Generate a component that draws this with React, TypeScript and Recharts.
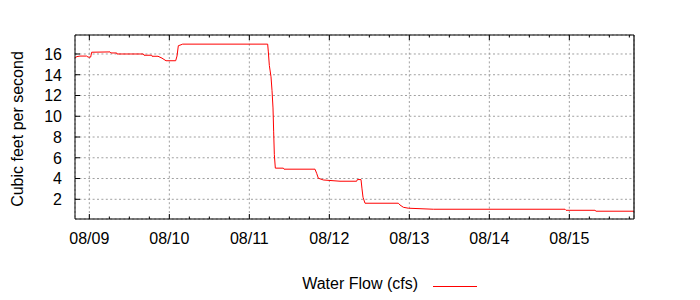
import { LineChart, Line, XAxis, YAxis, CartesianGrid, Legend } from "recharts"

// hours after 08/09 00:00
const hours = [
  -4.3, -3.7, -2.8, -0.8, -0.4, 0.4, 0.7, 6.2, 6.5, 8.2, 8.3, 16.2, 16.4, 18.7,
  18.8, 20.6, 21.8, 23, 25.9, 26.3, 26.7, 27.2, 28, 53.5, 53.7, 54, 54.5, 54.8,
  55.1, 55.3, 55.5, 55.8, 58.2, 58.4, 67.7, 68.2, 68.7, 70.2, 75.2, 80.2, 80.4,
  81.5, 81.8, 82.1, 82.7, 92.7, 93.2, 94.2, 95.7, 103.2, 142.7, 143, 151.7, 152,
  163.4,
]
const flow = [
  15.65, 15.75, 15.8, 15.8, 15.7, 15.7, 16.17, 16.2, 16.1, 16.1, 16.0, 16.0,
  15.88, 15.88, 15.78, 15.78, 15.6, 15.35, 15.35, 15.8, 16.8, 16.85, 16.95,
  16.95, 16.2, 14.9, 13.8, 12.5, 10.8, 8.5, 6.3, 5.0, 5.0, 4.9, 4.9, 4.5, 4.03,
  3.86, 3.74, 3.74, 3.9, 3.9, 3.0, 2.2, 1.62, 1.62, 1.45, 1.23, 1.14, 1.04, 1.04,
  0.94, 0.94, 0.85, 0.85,
]

const dayTicks = [0, 24, 48, 72, 96, 120, 144]
const dayLabels = ["08/09", "08/10", "08/11", "08/12", "08/13", "08/14", "08/15"]
const quarterTicks = [
  0, 6, 12, 18, 24, 30, 36, 42, 48, 54, 60, 66, 72, 78, 84, 90, 96, 102, 108,
  114, 120, 126, 132, 138, 144, 150, 156, 162,
]
const flowTicks = [2, 4, 6, 8, 10, 12, 14, 16]
const xRange = [-4.3, 163.4]
const yRange = [0.1, 17.83]

const data = hours.map((h, i) => ({ h, flow: flow[i] }))

const FONT = "'Liberation Sans', Arial, sans-serif"

function BottomTick({ x, y, payload }: any) {
  const idx = dayTicks.indexOf(payload.value)
  const major = idx >= 0
  return (
    <g>
      <line x1={x} y1={y} x2={x} y2={y - (major ? 5 : 2.5)} stroke="#000" />
      {major && (
        <text x={x} y={y + 25} textAnchor="middle" fontSize={16} fontFamily={FONT} fill="#000">
          {dayLabels[idx]}
        </text>
      )}
    </g>
  )
}

function TopTick({ x, y, payload }: any) {
  const major = dayTicks.includes(payload.value)
  return <line x1={x} y1={y} x2={x} y2={y + (major ? 5 : 2.5)} stroke="#000" />
}

function LeftTick({ x, y, payload }: any) {
  return (
    <g>
      <line x1={x} y1={y} x2={x + 5} y2={y} stroke="#000" />
      <text x={x - 13} y={y} dy="0.36em" textAnchor="end" fontSize={16} fontFamily={FONT} fill="#000">
        {payload.value}
      </text>
    </g>
  )
}

function RightTick({ x, y }: any) {
  return <line x1={x} y1={y} x2={x - 5} y2={y} stroke="#000" />
}

function YLabel({ viewBox }: any) {
  const cx = viewBox.x - 18
  const cy = viewBox.y + viewBox.height / 2 + 2
  return (
    <text
      x={cx}
      y={cy}
      transform={`rotate(-90 ${cx} ${cy})`}
      textAnchor="middle"
      dominantBaseline="central"
      fontSize={16}
      fontFamily={FONT}
      fill="#000"
    >
      Cubic feet per second
    </text>
  )
}

function LegendContent() {
  return (
    <div style={{ position: "relative", height: 20, fontFamily: FONT, fontSize: 16 }}>
      <span style={{ position: "absolute", right: 282, top: 0, whiteSpace: "nowrap" }}>
        Water Flow (cfs)
      </span>
      <div style={{ position: "absolute", left: 433, top: 11, width: 44, height: 1, background: "#ff0000" }} />
    </div>
  )
}

export default function App() {
  return (
    <div style={{ position: "absolute", left: 0, top: 0, background: "#fff" }}>
      <LineChart width={700} height={300} data={data} margin={{ top: 34, right: 65, bottom: 51, left: 35 }}>
        <XAxis xAxisId="grid" dataKey="h" type="number" domain={xRange} ticks={dayTicks} hide />
        <CartesianGrid xAxisId="grid" yAxisId="left" stroke="#a0a0a0" strokeDasharray="2 2.4" />
        <XAxis xAxisId="bottom" dataKey="h" type="number" domain={xRange} ticks={quarterTicks}
          interval={0} height={30} tickSize={0} tickMargin={0} tickLine={false}
          tick={<BottomTick />} axisLine={{ stroke: "#000" }} allowDataOverflow />
        <XAxis xAxisId="top" orientation="top" dataKey="h" type="number" domain={xRange}
          ticks={quarterTicks} interval={0} height={1} tickSize={0} tickMargin={0} tickLine={false}
          tick={<TopTick />} axisLine={{ stroke: "#000", strokeWidth: 1.2 }} allowDataOverflow />
        <YAxis yAxisId="left" type="number" domain={yRange} ticks={flowTicks} interval={0}
          width={40} tickSize={0} tickMargin={0} tickLine={false} tick={<LeftTick />}
          axisLine={{ stroke: "#000" }} label={YLabel} allowDataOverflow />
        <YAxis yAxisId="right" orientation="right" type="number" domain={yRange} ticks={flowTicks}
          width={1} tickSize={0} tickMargin={0} tick={<RightTick />} tickLine={false}
          axisLine={{ stroke: "#000", strokeWidth: 1.2 }} interval={0} />
        <Legend layout="horizontal" verticalAlign="middle" content={<LegendContent />}
          wrapperStyle={{ position: "absolute", left: 0, top: 275, width: 700 }} />
        <Line xAxisId="bottom" yAxisId="left" type="linear" dataKey="flow" name="Water Flow (cfs)"
          stroke="#ff0000" strokeWidth={1} dot={false} isAnimationActive={false} />
      </LineChart>
    </div>
  )
}
